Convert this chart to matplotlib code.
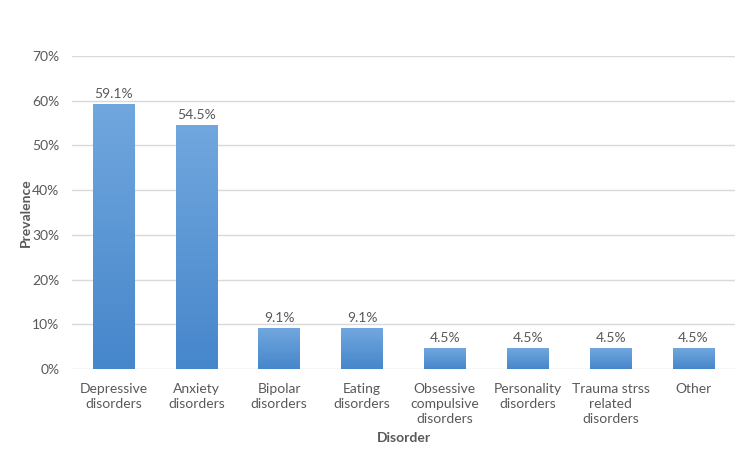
import numpy as np
import matplotlib
matplotlib.use('Agg')
import matplotlib.pyplot as plt
from matplotlib.colors import LinearSegmentedColormap

plt.rcParams['font.family'] = ['Lato', 'DejaVu Sans']

categories = ['Depressive\ndisorders', 'Anxiety\ndisorders', 'Bipolar\ndisorders',
              'Eating\ndisorders', 'Obsessive\ncompulsive\ndisorders',
              'Personality\ndisorders', 'Trauma strss\nrelated\ndisorders', 'Other']
prevalence = [59.1, 54.5, 9.1, 9.1, 4.5, 4.5, 4.5, 4.5]
yticks = [0, 10, 20, 30, 40, 50, 60, 70]

text_col = '#595959'
grid_col = '#d9d9d9'

fig = plt.figure(figsize=(7.5, 4.63), dpi=100)
ax = fig.add_axes([0.096, 0.203, 0.884, 0.676])

x = np.arange(len(categories))
bars = ax.bar(x, prevalence, width=0.5, color='none', zorder=3)

# vertical gradient fill for each bar
cmap = LinearSegmentedColormap.from_list('blu', ['#4686cb', '#71a7de'])
grad = np.linspace(0, 1, 256).reshape(-1, 1)
for b in bars:
    x0, w, h = b.get_x(), b.get_width(), b.get_height()
    ax.imshow(grad, cmap=cmap, origin='lower', aspect='auto',
              extent=[x0, x0 + w, 0, h], zorder=3)
    ax.text(x0 + w / 2, h + 1.0, f'{h:.1f}%', ha='center', va='bottom',
            fontsize=10, color=text_col, zorder=4)

ax.set_xlim(-0.5, len(categories) - 0.5)
ax.set_ylim(0, 70)
ax.set_yticks(yticks)
ax.set_yticklabels([f'{t}%' for t in yticks])
ax.set_xticks(x)
ax.set_xticklabels(categories, linespacing=1.3)
ax.yaxis.grid(True, color=grid_col, linewidth=1, zorder=0)
ax.set_axisbelow(True)
for s in ax.spines.values():
    s.set_visible(False)
ax.tick_params(axis='both', length=0, colors=text_col, labelsize=10)
ax.tick_params(axis='x', pad=10)
ax.tick_params(axis='y', pad=9)

ax.set_ylabel('Prevalence', fontsize=10, fontweight='bold', color=text_col, labelpad=0)
ax.set_xlabel('Disorder', fontsize=10, fontweight='bold', color=text_col, labelpad=5)

fig.savefig('out.png', dpi=100)
